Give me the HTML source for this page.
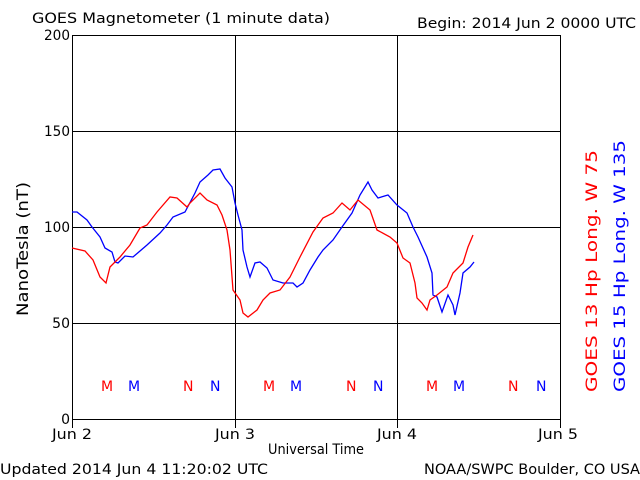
<!DOCTYPE html>
<html><head><meta charset="utf-8"><style>
body{margin:0;background:#fff;width:640px;height:480px;overflow:hidden}
svg{display:block}
text{font-family:"DejaVu Sans","Liberation Sans",sans-serif;font-size:14px}
</style></head><body>
<svg width="640" height="480" xmlns="http://www.w3.org/2000/svg">
<rect width="640" height="480" fill="#fff"/>
<g stroke="#000" stroke-width="1" fill="none">
<rect x="72.5" y="35.5" width="488" height="384"/>
<line x1="72" y1="131.5" x2="560" y2="131.5"/>
<line x1="72" y1="227.5" x2="560" y2="227.5"/>
<line x1="72" y1="323.5" x2="560" y2="323.5"/>
<line x1="235.5" y1="35" x2="235.5" y2="428"/>
<line x1="397.5" y1="35" x2="397.5" y2="428"/>
<line x1="72.5" y1="419" x2="72.5" y2="428"/>
<line x1="560.5" y1="419" x2="560.5" y2="428"/>
</g>
<g text-anchor="end">
<text x="70" y="40" textLength="26" lengthAdjust="spacingAndGlyphs">200</text><text x="70" y="136" textLength="26" lengthAdjust="spacingAndGlyphs">150</text><text x="70" y="232" textLength="26" lengthAdjust="spacingAndGlyphs">100</text><text x="70" y="328">50</text><text x="70" y="424">0</text>
</g>
<g text-anchor="middle">
<text x="72" y="439" textLength="40" lengthAdjust="spacingAndGlyphs">Jun 2</text><text x="235" y="439" textLength="40" lengthAdjust="spacingAndGlyphs">Jun 3</text><text x="397" y="439" textLength="40" lengthAdjust="spacingAndGlyphs">Jun 4</text><text x="558" y="439" textLength="40" lengthAdjust="spacingAndGlyphs">Jun 5</text>
<text x="316" y="454" textLength="96" lengthAdjust="spacingAndGlyphs">Universal Time</text>
</g>
<text x="32" y="23" textLength="298" lengthAdjust="spacingAndGlyphs">GOES Magnetometer (1 minute data)</text>
<text x="417" y="28" textLength="219" lengthAdjust="spacingAndGlyphs">Begin:  2014 Jun 2 0000 UTC</text>
<text x="0" y="474" textLength="268" lengthAdjust="spacingAndGlyphs">Updated 2014 Jun  4 11:20:02 UTC</text>
<text x="424" y="474" textLength="216" lengthAdjust="spacingAndGlyphs">NOAA/SWPC Boulder, CO USA</text>
<text transform="translate(28,316) rotate(-90)" style="font-size:16px" textLength="134" lengthAdjust="spacingAndGlyphs">NanoTesla (nT)</text>
<text transform="translate(597,392) rotate(-90)" fill="#f00" style="font-size:16px" textLength="242" lengthAdjust="spacingAndGlyphs">GOES 13 Hp  Long. W 75</text>
<text transform="translate(625,392) rotate(-90)" fill="#00f" style="font-size:16px" textLength="252" lengthAdjust="spacingAndGlyphs">GOES 15 Hp  Long. W 135</text>
<g font-size="13">
<text x="101" y="391" fill="#f00">M</text><text x="128" y="391" fill="#00f">M</text>
<text x="183" y="391" fill="#f00">N</text><text x="210" y="391" fill="#00f">N</text>
<text x="263" y="391" fill="#f00">M</text><text x="290" y="391" fill="#00f">M</text>
<text x="346" y="391" fill="#f00">N</text><text x="373" y="391" fill="#00f">N</text>
<text x="426" y="391" fill="#f00">M</text><text x="453" y="391" fill="#00f">M</text>
<text x="508" y="391" fill="#f00">N</text><text x="536" y="391" fill="#00f">N</text>
</g>
<polyline fill="none" stroke="#00f" stroke-width="1.3" points="72,212 77,212 87,220 92,227 100,237 105,248 112,252 115,262 118,263 125,256 133,257 147,245 160,233 167,225 173,217 185,212 195,193 200,182 208,175 213,170 220,169 225,178 232,187 235,203 238,215 242,230 243,250 247,267 250,277 255,263 260,262 267,268 273,280 283,283 293,283 297,287 303,283 310,270 318,257 323,250 333,240 342,227 352,213 360,195 368,182 372,190 378,198 388,195 397,205 407,213 413,227 418,237 427,257 432,273 433,295 437,297 442,312 448,295 453,305 455,315 460,293 463,273 470,267 474,262"/>
<polyline fill="none" stroke="#f00" stroke-width="1.3" points="72,248 85,251 93,260 100,277 106,283 110,267 120,257 130,245 140,228 147,225 157,212 170,197 177,198 187,207 190,203 200,193 207,200 217,205 222,215 227,230 230,250 233,290 240,300 243,313 248,317 257,310 263,300 270,293 280,290 290,277 300,257 313,232 323,218 333,213 342,203 350,210 358,200 370,210 377,230 390,237 397,243 403,258 410,263 415,283 417,298 422,303 427,310 430,300 437,295 447,287 453,273 463,263 468,247 473,235"/>
</svg>
</body></html>
